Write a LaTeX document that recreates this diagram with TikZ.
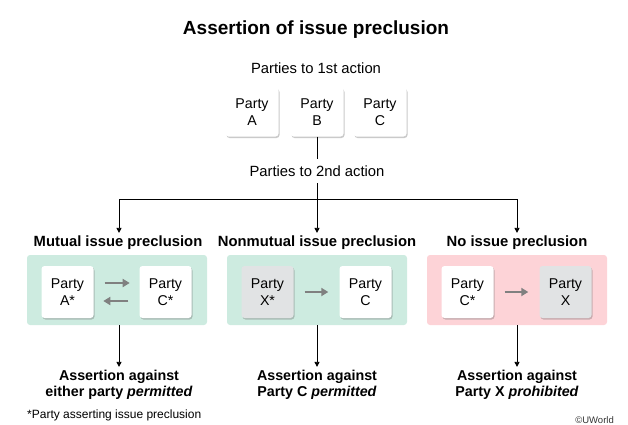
\documentclass[tikz,border=0pt]{standalone}
\usepackage{fontspec}
\setmainfont{Liberation Sans}
\usetikzlibrary{shadows,arrows.meta}
\definecolor{pgreen}{HTML}{CDEBE0}
\definecolor{ppink}{HTML}{FDD3D7}
\definecolor{pgray}{HTML}{E1E3E4}
\definecolor{arrgray}{HTML}{808080}
\begin{document}
\begin{tikzpicture}[x=1pt,y=-1pt,
  partybox/.style={draw=none,fill=white,rounded corners=3pt,minimum width=52pt,minimum height=52pt,
    align=center,font=\fontsize{14.2}{16.5}\selectfont,inner sep=0pt,
    drop shadow={shadow xshift=1pt,shadow yshift=-1.5pt,opacity=0.35,fill=black!60}},
  graybox/.style={partybox,fill=pgray},
  panel/.style={draw=none,rounded corners=3pt,minimum width=180pt,minimum height=70pt,inner sep=0pt},
  lbl/.style={font=\fontsize{14.8}{16}\selectfont,inner sep=1pt},
  head/.style={font=\bfseries\fontsize{14.8}{16}\selectfont,inner sep=3pt},
  res/.style={font=\bfseries\fontsize{14.3}{16.5}\selectfont,align=center,inner sep=3pt},
  conn/.style={draw=black,line width=0.8pt,-{Triangle[length=5pt,width=5pt]}},
  garr/.style={draw=arrgray,line width=2pt,-{Triangle[length=7pt,width=8pt]}}
]
\useasboundingbox (0,0) rectangle (628,424);
\node[font=\bfseries\fontsize{19}{22}\selectfont] (title) at (316,30) {Assertion of issue preclusion};
\node[lbl] (p1) at (316,68) {Parties to 1st action};
\node[partybox,minimum width=53pt,minimum height=49pt] (A) at (252,112) {Party\\A};
\node[partybox,minimum width=53pt,minimum height=49pt] (B) at (317,112) {Party\\B};
\node[partybox,minimum width=53pt,minimum height=49pt] (C) at (380,112) {Party\\C};
\node[lbl,inner ysep=6.5pt] (p2) at (317,171) {Parties to 2nd action};
\draw[line width=0.8pt] (B.south) -- (B.south |- p2.north);
\coordinate (j) at (317,199);
\coordinate (jl) at (119,199);
\coordinate (jr) at (517,199);
\draw[line width=0.8pt] (p2.south -| j) -- (j);
\draw[line width=0.8pt] (jl) -- (jr);
\node[head] (h1) at (118,243) {Mutual issue preclusion};
\node[head] (h2) at (317,243) {Nonmutual issue preclusion};
\node[head] (h3) at (517,243) {No issue preclusion};
\draw[conn] (jl) -- (jl |- h1.north);
\draw[conn] (j) -- (h2.north);
\draw[conn] (jr) -- (h3.north);
% panels
\node[panel,fill=pgreen] (g1) at (117,290) {};
\node[panel,fill=pgreen] (g2) at (317,290) {};
\node[panel,fill=ppink] (g3) at (517,290) {};
% panel 1
\node[partybox] (a1) at (67.5,292) {Party\\A*};
\node[partybox] (c1) at (165.5,292) {Party\\C*};
\draw[garr] ([yshift=9pt]a1.east) ++(11,0) -- ++(25,0);
\draw[garr] ([yshift=-9pt]c1.west) ++(-11,0) -- ++(-25,0);
% panel 2
\node[graybox] (x2) at (267.5,292) {Party\\X*};
\node[partybox] (c2) at (365.5,292) {Party\\C};
\draw[garr] ([xshift=11pt]x2.east) -- ([xshift=-11pt]c2.west);
% panel 3
\node[partybox] (c3) at (467.5,292) {Party\\C*};
\node[graybox] (x3) at (565.5,292) {Party\\X};
\draw[garr] ([xshift=11pt]c3.east) -- ([xshift=-11pt]x3.west);
% results
\node[res] (r1) at (119,385) {Assertion against\\either party \textit{permitted}};
\node[res] (r2) at (317,385) {Assertion against\\Party C \textit{permitted}};
\node[res] (r3) at (517,385) {Assertion against\\Party X \textit{prohibited}};
\draw[conn] (g1.south -| r1) -- (r1.north);
\draw[conn] (g2.south -| r2) -- (r2.north);
\draw[conn] (g3.south -| r3) -- (r3.north);
\node[anchor=west,font=\fontsize{12}{13}\selectfont,inner sep=0pt] (fn) at (27,415) {*Party asserting issue preclusion};
\node[anchor=east,font=\fontsize{9.5}{10}\selectfont,inner sep=0pt,text=black!80] (cp) at (614,420) {©UWorld};
\end{tikzpicture}
\end{document}
